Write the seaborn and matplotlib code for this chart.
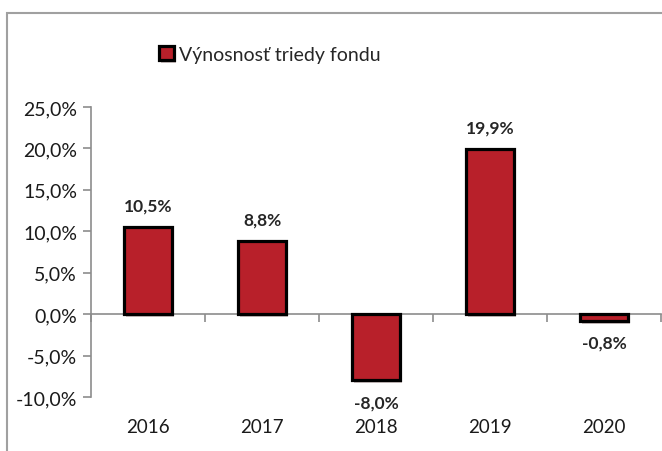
import numpy as np
import seaborn as sns
import matplotlib.pyplot as plt
import matplotlib.patheffects as pe
from matplotlib.patches import Rectangle
from matplotlib.ticker import FuncFormatter

# data
years = ['2016', '2017', '2018', '2019', '2020']
returns = [10.5, 8.8, -8.0, 19.9, -0.8]
series_name = 'Výnosnosť triedy fondu'

sns.set_style('white')
plt.rcParams['font.family'] = ['Lato', 'DejaVu Sans']

fig = plt.figure(figsize=(6.62, 4.52), dpi=100)
ax = fig.add_axes([91 / 662, 1 - 398 / 452, 570 / 662, 290 / 452])

sns.barplot(x=years, y=returns, color='#B8202A', saturation=1, width=0.42,
            edgecolor='black', linewidth=2.3, label=series_name, ax=ax)

for p in ax.patches:
    p.set_path_effects([pe.SimplePatchShadow(offset=(1.5, -2), alpha=0.25), pe.Normal()])

ax.set_xlim(-0.5, 4.5)
ax.set_ylim(-10, 25)
ax.set_yticks(np.arange(-10, 26, 5))
ax.yaxis.set_major_formatter(FuncFormatter(lambda v, _: f'{v:.1f}%'.replace('.', ',')))
ax.tick_params(axis='y', length=6, width=1.2, color='#8c8c8c', labelsize=14, pad=4,
               left=True, labelcolor='#1a1a1a')
ax.tick_params(axis='x', length=0, labelsize=13.5, pad=15, labelcolor='#1a1a1a')

for s in ['top', 'right', 'bottom']:
    ax.spines[s].set_visible(False)
ax.spines['left'].set_color('#8c8c8c')
ax.spines['left'].set_linewidth(1.2)

# zero line with category separators
zero_ax = ax.secondary_xaxis(10 / 35)
zero_ax.set_xticks(np.arange(-0.5, 5, 1))
zero_ax.tick_params(length=6, width=1.2, color='#8c8c8c', labelbottom=False, direction='out')
zero_ax.spines['bottom'].set_color('#8c8c8c')
zero_ax.spines['bottom'].set_linewidth(1.2)

labels = [f'{v:.1f}%'.replace('.', ',') for v in returns]
ax.bar_label(ax.containers[0], labels=labels, padding=10, fontsize=12.5, fontweight='bold')

ax.legend().remove()
h, l = ax.get_legend_handles_labels()
fig.legend(h, l, loc='center', bbox_to_anchor=(0.408, 1 - 55 / 452), frameon=False,
           fontsize=14, handlelength=0.75, handleheight=0.75, handletextpad=0.3)

# chart border
fig.patches.append(Rectangle((7 / 662, -0.1), 1.1, 1 - 14 / 452 + 0.1, transform=fig.transFigure,
                             fill=False, edgecolor='#a0a0a0', linewidth=1.5))

fig.savefig('out.png', dpi=100)
